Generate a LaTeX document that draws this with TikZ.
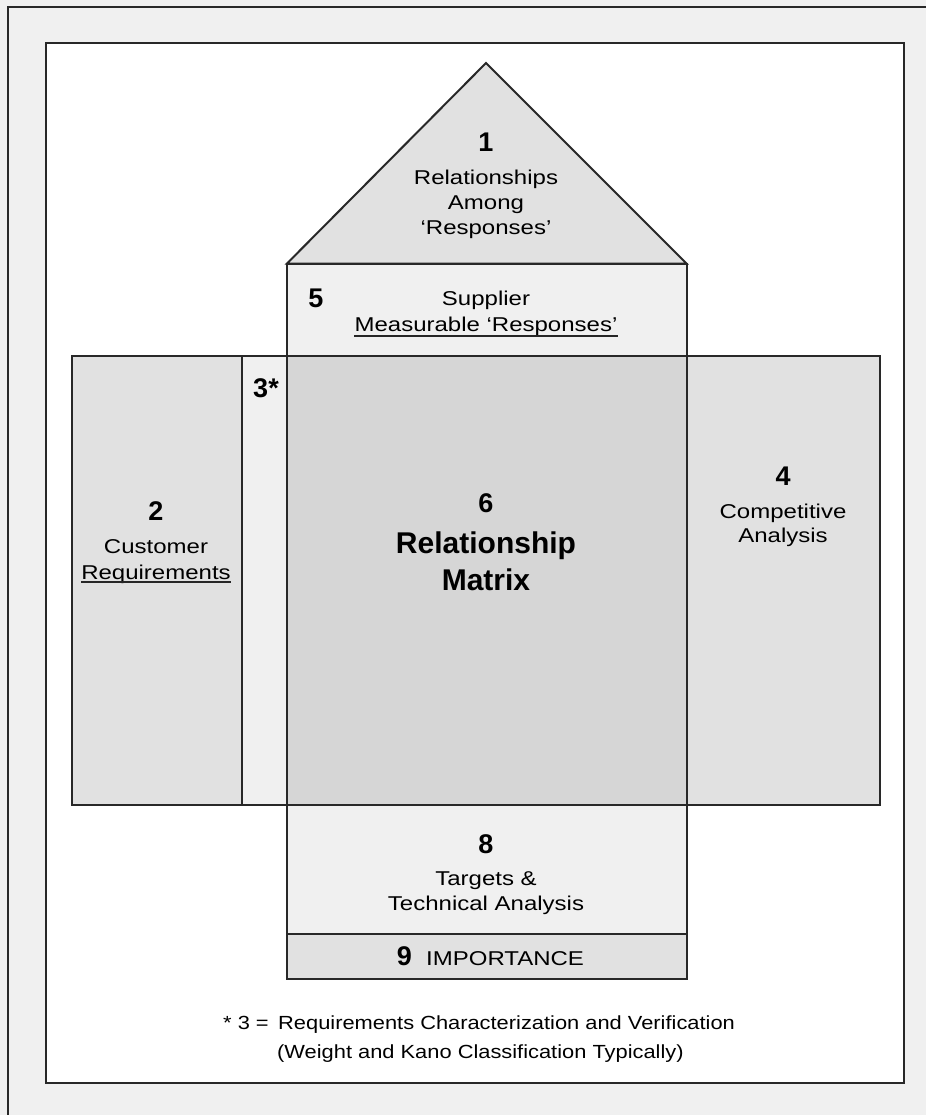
\documentclass[tikz,border=0pt]{standalone}
\usepackage{fontspec}
\setmainfont{Liberation Sans}
\newfontfamily\widefont[FakeStretch=1.2]{Liberation Sans}
\newfontfamily\notefont[FakeStretch=1.15]{Liberation Sans}
\usetikzlibrary{positioning}
\definecolor{qfdline}{RGB}{40, 40, 40}
\definecolor{qfdpale}{RGB}{240, 240, 240}
\definecolor{qfdmid}{RGB}{225, 225, 225}
\definecolor{qfddark}{RGB}{214, 214, 214}
\tikzset{
  room/.style={draw=qfdline, line width=2pt, line join=miter},
  roomnum/.style={anchor=base, inner sep=0pt, font=\fontsize{27}{30}\selectfont\bfseries},
  roomtext/.style={anchor=base, inner sep=0pt, font=\fontsize{20}{25}\selectfont\widefont},
  notetext/.style={anchor=base west, inner sep=0pt, font=\fontsize{19}{24}\selectfont\notefont},
  underbar/.style={draw=black!85, line width=1.3pt},
}

\begin{document}
\begin{tikzpicture}[x=1pt, y=-1pt]

% === Marco ===
\fill[qfdpale] (0,0) rectangle (926,1115);
\useasboundingbox (0,0) rectangle (926,1115);
\draw[qfdline, line width=2pt] (7.5,1115) -- (7.5,7.5) -- (926,7.5);
\filldraw[room, fill=white] (46,43) rectangle (903.5,1083);

% === Casa ===
% Techo
\filldraw[room, fill=qfdmid] (287,263.5) -- (486,63) -- (686.5,263.5) -- cycle;
% Cuarto 5
\filldraw[room, fill=qfdpale] (287,263.5) rectangle (686.5,355.5);
% Cuartos 2, 3, 6, 4
\filldraw[room, fill=qfdmid] (71.5,355.5) rectangle (241.5,805);
\filldraw[room, fill=qfdpale] (241.5,355.5) rectangle (287,805);
\filldraw[room, fill=qfddark] (287,355.5) rectangle (686.5,805);
\filldraw[room, fill=qfdmid] (686.5,355.5) rectangle (880,805);
% Cuartos 8 y 9
\filldraw[room, fill=qfdpale] (287,805) rectangle (686.5,934);
\filldraw[room, fill=qfdmid] (287,934) rectangle (686.5,979);

% === Textos ===
% Techo
\node[roomnum] (num1) at (486,152) {1};
\node[roomtext] (roofa) at (486,185) {Relationships};
\node[roomtext] (roofb) at (486,210) {Among};
\node[roomtext] (roofc) at (486,235) {‘Responses’};

% Respuestas
\node[roomnum] (num5) at (316,307) {5};
\node[roomtext] (respa) at (486,305) {Supplier};
\node[roomtext] (respb) at (486,331) {Measurable ‘Responses’};
\draw[underbar] ([yshift=-5pt]respb.base west) -- ([yshift=-5pt]respb.base east);

% Caracterizacion
\node[roomnum] (num3) at (266,397) {3*};

% Cliente
\node[roomnum] (num2) at (156,520) {2};
\node[roomtext] (custa) at (156,553) {Customer};
\node[roomtext] (custb) at (156,579) {Requirements};
\draw[underbar] ([yshift=-3pt]custb.base west) -- ([yshift=-3pt]custb.base east);

% Matriz
\node[roomnum] (num6) at (486,512) {6};
\node[roomtext, font=\fontsize{30}{36}\selectfont\bfseries] (mata) at (486,553) {Relationship};
\node[roomtext, font=\fontsize{30}{36}\selectfont\bfseries] (matb) at (486,590) {Matrix};

% Competencia
\node[roomnum] (num4) at (783,485) {4};
\node[roomtext] (compa) at (783,518) {Competitive};
\node[roomtext] (compb) at (783,542) {Analysis};

% Metas
\node[roomnum] (num8) at (486,853) {8};
\node[roomtext] (targa) at (486,885) {Targets \&};
\node[roomtext] (targb) at (486,910) {Technical Analysis};

% Importancia
\node[roomnum] (num9) at (404.5,965) {9};
\node[roomtext, anchor=base west] (imp) at (426,965) {IMPORTANCE};

% Nota
\node[notetext] (notekey) at (223,1029) {* 3 =};
\node[notetext] (notea) at (278,1029) {Requirements Characterization and Verification};
\node[notetext] (noteb) at (277,1058) {(Weight and Kano Classification Typically)};

\end{tikzpicture}
\end{document}
